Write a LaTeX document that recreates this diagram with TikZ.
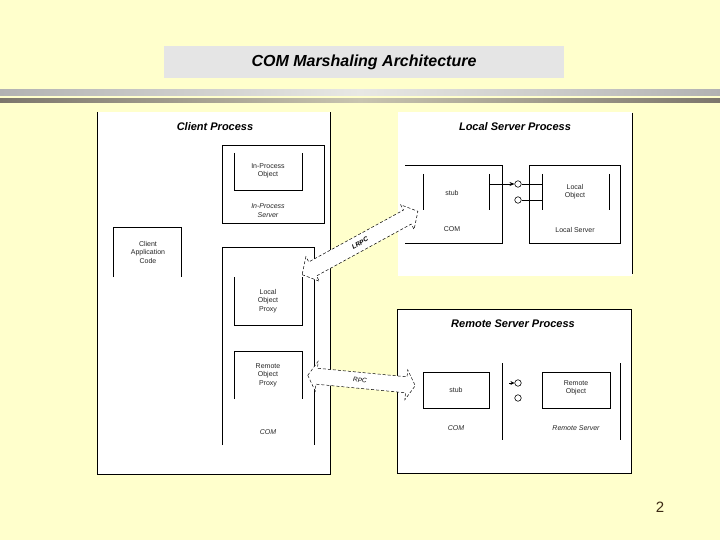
\documentclass[tikz,border=0pt]{standalone}
\usepackage{fontspec}
\setmainfont{Liberation Sans}
\usetikzlibrary{arrows.meta}
\definecolor{bg}{RGB}{255,255,204}
\definecolor{titlegray}{RGB}{229,229,229}
\definecolor{bandedge}{RGB}{178,178,178}
\definecolor{bandmid}{RGB}{232,232,228}
\definecolor{darkedge}{RGB}{124,118,108}
\definecolor{darkmid}{RGB}{200,196,176}
\definecolor{pgcol}{RGB}{60,42,20}
\begin{document}
\begin{tikzpicture}[x=1pt,y=-1pt, line width=0.8pt,
  ttl/.style={font=\fontsize{11}{13}\selectfont\bfseries\itshape, inner sep=0pt},
  sm/.style={font=\fontsize{7}{8.5}\selectfont, align=center, text=black!85, inner sep=0pt},
  smi/.style={sm, font=\fontsize{7}{8.5}\selectfont\itshape},
  blk/.style={draw=black, dash pattern=on 3pt off 2pt, line width=0.5pt, fill=white},
  port/.style={circle, draw, line width=0.6pt, minimum size=6.5pt, inner sep=0pt, fill=white}]

\fill[bg] (0,0) rectangle (720,540);
\useasboundingbox (0,0) rectangle (720,540);

% header bands
\shade[left color=bandedge, right color=bandedge, middle color=bandmid] (0,90) rectangle (720,96);
\shade[left color=darkedge, right color=darkedge, middle color=darkmid] (0,99) rectangle (720,103);

% title
\fill[titlegray] (164,46) rectangle (564,78);
\node[font=\fontsize{16}{18}\selectfont\bfseries\itshape] (title) at (364,62) {COM Marshaling Architecture};

% panels
\fill[white] (97,112) rectangle (330,474);
\draw (97,112) -- (97,474) -- (330,474) -- (330,112);
\fill[white] (398,112) rectangle (632,276);
\draw (632,113) -- (632,274);
\filldraw[fill=white] (397,309) rectangle (631,473);

\node[ttl] (cp) at (215,127) {Client Process};
\node[ttl] (lsp) at (515,127) {Local Server Process};
\node[ttl] (rsp) at (513,324) {Remote Server Process};

% client process contents
\draw (222,145) rectangle (324,223);
\draw (234,153) -- (234,190) -- (302,190) -- (302,153);
\node[sm] (ipo) at (268,171) {In-Process\\Object};
\node[smi] (ips) at (268,210.5) {In-Process\\Server};

\draw (113,277) -- (113,227) -- (181,227) -- (181,277);
\node[sm] (cac) at (148,252) {Client\\Application\\Code};

\draw (222,445) -- (222,247) -- (314,247) -- (314,445);
\draw (234,277) -- (234,325) -- (302,325) -- (302,277);
\node[sm] (lop) at (268,301) {Local\\Object\\Proxy};
\draw (234,399) -- (234,351) -- (302,351) -- (302,399);
\node[sm] (rop) at (268,375) {Remote\\Object\\Proxy};
\node[smi] (ccom) at (268,432) {COM};

% local server contents
\draw (405,165) -- (502,165) -- (502,243) -- (405,243);
\draw (423,174) -- (423,210);
\draw (489,174) -- (489,210);
\node[sm] (lstub) at (452,193) {stub};
\node[sm] (lcom) at (452,229) {COM};
\draw (529,165) rectangle (620,243);
\draw (542,174) -- (542,210);
\draw (609,174) -- (609,210);
\node[sm] (lobj) at (575,191.5) {Local\\Object};
\node[sm] (lsrv) at (575,230) {Local Server};

\node[port] (lp1) at (518,184) {};
\node[port] (lp2) at (518,200) {};
\coordinate (stubout) at (489,184);
\coordinate (lobj1) at (542,184);
\coordinate (lobj2) at (542,200);
\draw[line width=0.6pt, -{Stealth[length=5pt,width=4pt]}] (stubout) -- (lp1);
\draw[line width=0.6pt] (lp1) -- (lobj1);
\draw[line width=0.6pt] (lp2) -- (lobj2);

% remote server contents
\draw (423,372) rectangle (489,408);
\node[sm] (rstub) at (456,390) {stub};
\node[smi] (rcom) at (456,428) {COM};
\draw (502,363) -- (502,440);
\draw (542,372) rectangle (610,408);
\node[sm] (robj) at (576,388) {Remote\\Object};
\node[smi] (rsrv) at (576,428) {Remote Server};
\draw (620,363) -- (620,440);
\node[port] (rp1) at (518,383) {};
\node[port] (rp2) at (518,398) {};
\coordinate (rin) at (509,383);
\draw[line width=0.6pt, -{Stealth[length=4pt,width=4pt]}] (rin) -- (rp1);

% LRPC block arrow
\begin{scope}[shift={(360,243)}, rotate=28.7]
  \draw[blk] (-66,0) -- (-54,14) -- (-54,8) -- (54,8) -- (54,14) -- (66,0) -- (54,-14) -- (54,-8) -- (-54,-8) -- (-54,-14) -- cycle;
\end{scope}
\node[font=\fontsize{6.5}{8}\selectfont\bfseries\itshape, rotate=28.7] (lrpc) at (360,243) {LRPC};

% RPC block arrow
\begin{scope}[shift={(361.5,380.5)}, rotate=-5.5]
  \draw[blk] (-54,0) -- (-45,15) -- (-45,8) -- (45,8) -- (45,15) -- (54,0) -- (45,-15) -- (45,-8) -- (-45,-8) -- (-45,-15) -- cycle;
\end{scope}
\node[font=\fontsize{6.5}{8}\selectfont\itshape, rotate=-5] (rpc) at (360,380) {RPC};

% page number
\node[font=\fontsize{15}{18}\selectfont, text=pgcol] (pg) at (660,507) {2};
\end{tikzpicture}
\end{document}
